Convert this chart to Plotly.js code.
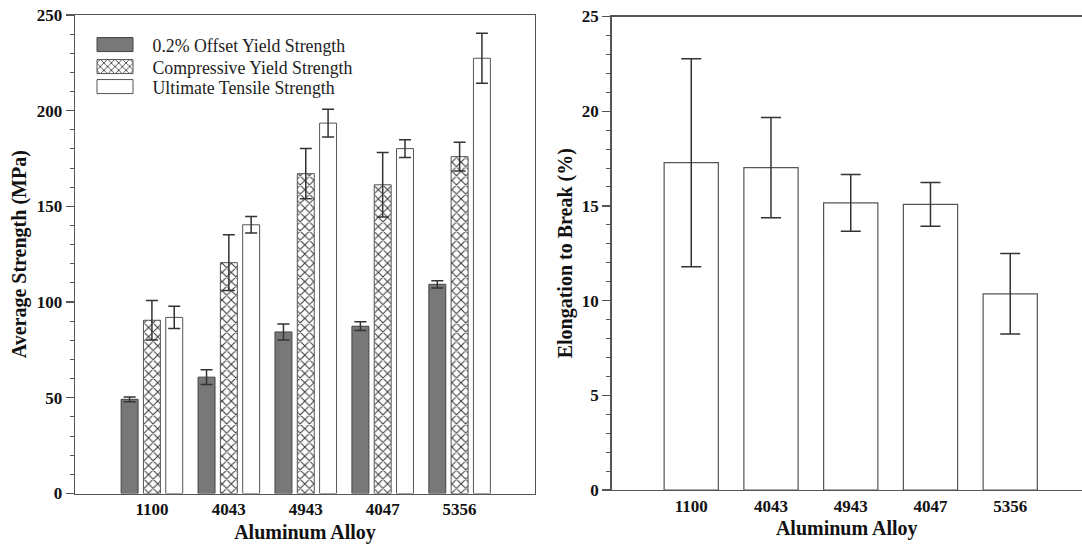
<!DOCTYPE html>
<html>
<head>
<meta charset="utf-8">
<script src="https://cdn.plot.ly/plotly-3.0.1.min.js"></script>
<style>
html,body{margin:0;padding:0;background:#fff;}
#chart{width:1082px;height:544px;}
</style>
</head>
<body>
<div id="chart"></div>
<script>
// ---- data ----
const alloys = ['1100', '4043', '4943', '4047', '5356'];

const offsetYield    = [49.2, 60.8, 84.4, 87.4, 109.3];
const offsetYieldErr = [1.2, 3.9, 4.2, 2.3, 1.9];

const compYield      = [90.5, 120.6, 167.1, 161.3, 176.0];
const compYieldErr   = [10.3, 14.6, 13.1, 16.9, 7.5];

const ultimate       = [92.0, 140.4, 193.5, 180.2, 227.4];
const ultimateErr    = [5.8, 4.3, 7.3, 4.6, 13.0];

const elongation     = [17.28, 17.02, 15.16, 15.08, 10.36];
const elongationErr  = [5.49, 2.65, 1.50, 1.16, 2.13];

const strengthTicks  = [0, 50, 100, 150, 200, 250];
const elongTicks     = [0, 5, 10, 15, 20, 25];

// ---- layout helpers ----
const W = 1082, H = 544;
const px = v => v / W;
const py = v => 1 - v / H;
const serif = "'Liberation Serif', 'Times New Roman', serif";
const axisCol = '#555';
const errCol = '#333';

const tf = () => ({family: serif, size: 17, color: '#111', weight: 700});
const ttf = () => ({family: serif, size: 20, color: '#111', weight: 700});
const lf = () => ({family: serif, size: 17.8, color: '#222', weight: 400});

const traces = [
  {
    type: 'bar', name: '0.2% Offset Yield Strength',
    x: alloys, y: offsetYield,
    error_y: {type: 'data', array: offsetYieldErr, visible: true, color: errCol, thickness: 1.5, width: 6},
    marker: {color: '#787878', line: {color: '#444', width: 1}},
    xaxis: 'x', yaxis: 'y', legend: 'legend'
  },
  {
    type: 'bar', name: 'Compressive Yield Strength',
    x: alloys, y: compYield,
    error_y: {type: 'data', array: compYieldErr, visible: true, color: errCol, thickness: 1.5, width: 6},
    marker: {color: '#ffffff', pattern: {shape: 'x', bgcolor: '#ffffff', fgcolor: '#3a3a3a', size: 6.5, solidity: 0.3},
             line: {color: '#555', width: 1}},
    xaxis: 'x', yaxis: 'y', legend: 'legend2'
  },
  {
    type: 'bar', name: 'Ultimate Tensile Strength',
    x: alloys, y: ultimate,
    error_y: {type: 'data', array: ultimateErr, visible: true, color: errCol, thickness: 1.5, width: 6},
    marker: {color: '#ffffff', line: {color: '#555', width: 1}},
    xaxis: 'x', yaxis: 'y', legend: 'legend3'
  },
  {
    type: 'bar', name: 'Elongation to Break',
    x: alloys, y: elongation, width: 0.68,
    error_y: {type: 'data', array: elongationErr, visible: true, color: errCol, thickness: 1.5, width: 10},
    marker: {color: '#ffffff', line: {color: '#555', width: 1.2}},
    xaxis: 'x2', yaxis: 'y2', showlegend: false
  }
];

function xAxis(extra) {
  return Object.assign({
    type: 'category', showline: true, linecolor: axisCol, linewidth: 1.3, mirror: true,
    ticks: '', showgrid: false, zeroline: false, tickfont: tf(), ticklabelstandoff: 0,
    fixedrange: true
  }, extra);
}
function yAxis(extra) {
  return Object.assign({
    showline: true, linecolor: axisCol, linewidth: 1.3,
    ticks: 'outside', ticklen: 8, tickwidth: 1.3, tickcolor: axisCol,
    showgrid: false, zeroline: false, tickfont: tf(), fixedrange: true
  }, extra);
}
function legendAt(yPx) {
  return {
    xref: 'paper', yref: 'paper', xanchor: 'left', yanchor: 'middle',
    x: px(77.5), y: py(yPx),
    itemwidth: 65, font: lf(), bgcolor: 'rgba(0,0,0,0)', borderwidth: 0
  };
}

const layout = {
  width: W, height: H,
  margin: {l: 0, r: 0, t: 0, b: 0},
  font: {family: serif, size: 17, color: '#111', weight: 700},
  paper_bgcolor: '#fff', plot_bgcolor: '#fff',
  barmode: 'group', bargap: 0.13, bargroupgap: 0.24,
  xaxis: xAxis({
    domain: [px(75), px(535)], range: [-1.0, 4.98], anchor: 'y',
    title: {text: 'Aluminum Alloy', font: ttf(), standoff: 6}
  }),
  yaxis: yAxis({
    domain: [py(493.5), py(15)], range: [0, 250], anchor: 'x', mirror: true,
    tickvals: strengthTicks, ticktext: strengthTicks.map(String),
    minor: {dtick: 10, ticks: 'outside', ticklen: 4, tickwidth: 1, tickcolor: axisCol, showgrid: false},
    title: {text: 'Average Strength (MPa)', font: ttf(), standoff: 4}
  }),
  xaxis2: xAxis({
    domain: [px(611.5), 1], range: [-1.0, 4.9], anchor: 'y2',
    title: {text: 'Aluminum Alloy', font: ttf(), standoff: 6}
  }),
  yaxis2: yAxis({
    domain: [py(490), py(16.5)], range: [0, 25], anchor: 'x2', mirror: false,
    tickvals: elongTicks, ticktext: elongTicks.map(String),
    minor: {dtick: 1, ticks: 'outside', ticklen: 4, tickwidth: 1, tickcolor: axisCol, showgrid: false},
    title: {text: 'Elongation to Break (%)', font: ttf(), standoff: 3}
  }),
  legend:  legendAt(45),
  legend2: legendAt(67),
  legend3: legendAt(87),
  showlegend: true
};

Plotly.newPlot('chart', traces, layout, {displayModeBar: false, staticPlot: true}).then(gd => {
  // widen the legend swatches to the reference's wide rectangles
  gd.querySelectorAll('.legendpoints path').forEach(p => {
    const d = p.getAttribute('d');
    if (d && d.replace(/\s/g, '') === 'M6,6H-6V-6H6Z') p.setAttribute('d', 'M18,7H-18V-7H18Z');
  });
});
</script>
</body>
</html>
